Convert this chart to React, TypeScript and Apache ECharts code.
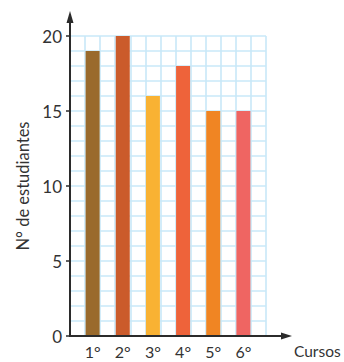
import React, { useEffect, useRef } from "react";
import * as echarts from "echarts";

const courses = ["1°", "2°", "3°", "4°", "5°", "6°"];
const students = [19, 20, 16, 18, 15, 15];
const barColors = ["#9A6A2C", "#CB5B2B", "#F9B233", "#EE633A", "#F08523", "#EF6562"];
const slotCount = 13;
const yMin = 0;
const yMax = 20;
const yInterval = 5;

const FONT = "Lato, 'Open Sans', sans-serif";
const GRID_COLOR = "#C8E8F8";
const AXIS_COLOR = "#2b2b2b";

export default function App() {
  const ref = useRef<HTMLDivElement>(null);

  useEffect(() => {
    document.body.style.margin = "0";
    if (!ref.current) return;
    const chart = echarts.init(ref.current, undefined, { renderer: "svg" });

    const axisData: string[] = [];
    const seriesData: any[] = [];
    for (let i = 0; i < slotCount; i++) {
      const idx = (i - 1) / 2;
      if (i % 2 === 1 && idx < courses.length) {
        axisData.push(courses[idx]);
        seriesData.push({ value: students[idx], itemStyle: { color: barColors[idx] } });
      } else {
        axisData.push("");
        seriesData.push("-");
      }
    }

    chart.setOption({
      animation: false,
      grid: { left: 70, top: 36, width: 196, height: 300 },
      xAxis: {
        type: "category",
        data: axisData,
        boundaryGap: true,
        axisLine: { show: false },
        axisTick: { show: false },
        axisLabel: { interval: 0, fontSize: 16, color: "#333", fontFamily: FONT, margin: 7 },
        splitLine: { show: true, interval: 0, lineStyle: { color: GRID_COLOR, width: 1.6 } },
      },
      yAxis: {
        type: "value",
        min: yMin,
        max: yMax,
        interval: yInterval,
        name: "N° de estudiantes",
        nameLocation: "middle",
        nameRotate: 90,
        nameGap: 30,
        nameTextStyle: { fontSize: 16.5, color: "#333", fontFamily: FONT },
        axisLine: { show: false },
        axisTick: { show: true, length: 4, lineStyle: { color: AXIS_COLOR, width: 1.5 } },
        axisLabel: { fontSize: 17, color: "#333", fontFamily: FONT, margin: 8 },
        splitLine: { show: true, lineStyle: { color: GRID_COLOR, width: 1.6 } },
        minorTick: { show: false, splitNumber: 5 },
        minorSplitLine: { show: true, lineStyle: { color: GRID_COLOR, width: 1.6 } },
      },
      series: [
        {
          type: "bar",
          data: seriesData,
          barWidth: 14,
          z: 3,
        },
      ],
      graphic: [
        { type: "line", z: 100, shape: { x1: 70, y1: 337, x2: 70, y2: 20 }, style: { stroke: AXIS_COLOR, lineWidth: 2 } },
        { type: "polygon", z: 100, shape: { points: [[66.5, 23], [70, 11], [73.5, 23]] }, style: { fill: AXIS_COLOR } },
        { type: "line", z: 100, shape: { x1: 69, y1: 336, x2: 283, y2: 336 }, style: { stroke: AXIS_COLOR, lineWidth: 2 } },
        { type: "polygon", z: 100, shape: { points: [[281, 332.5], [292, 336], [281, 339.5]] }, style: { fill: AXIS_COLOR } },
        {
          type: "text",
          z: 100,
          x: 294,
          y: 351,
          style: { text: "Cursos", fontSize: 15.5, fill: "#333", fontFamily: FONT, verticalAlign: "middle", align: "left" },
        },
      ],
    });

    return () => chart.dispose();
  }, []);

  return <div ref={ref} style={{ width: 344, height: 362 }} />;
}
